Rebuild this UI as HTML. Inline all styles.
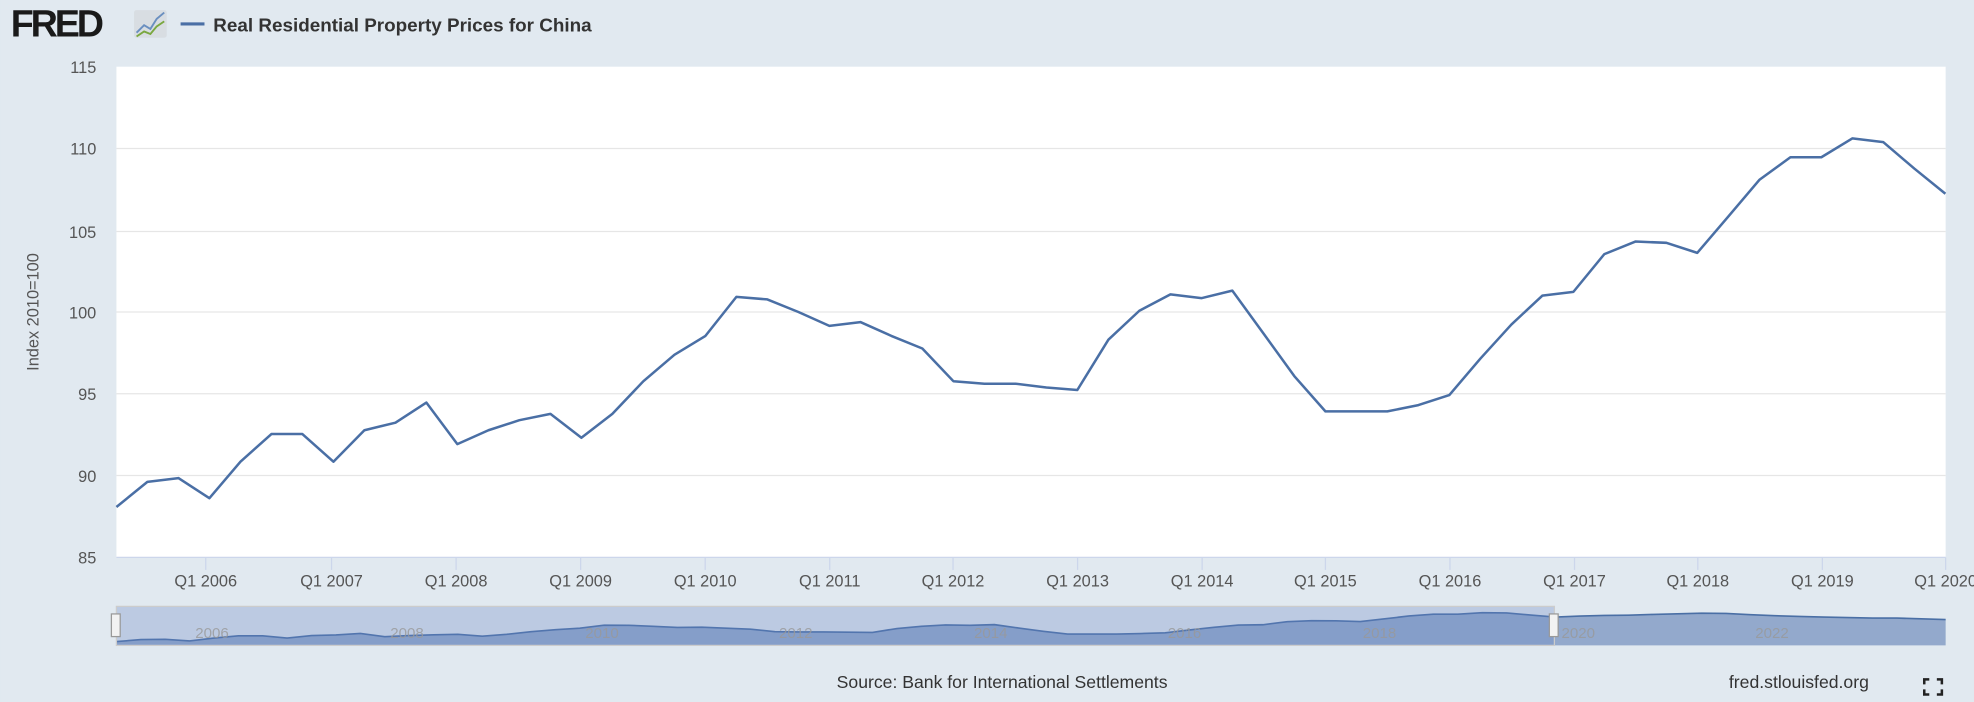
<!DOCTYPE html>
<html><head><meta charset="utf-8"><style>
html,body{margin:0;padding:0;background:#e1e9f0;}
svg{display:block;font-family:"Liberation Sans",sans-serif;}
</style></head><body>
<svg id="s" width="1974" height="702" viewBox="0 0 1568 558" xmlns="http://www.w3.org/2000/svg">
<rect width="1568" height="558" fill="#e1e9f0"/>
<text x="8" y="29" font-size="30" font-weight="bold" fill="#1a1a1a" letter-spacing="-2.5">FRED</text>
<rect x="106" y="8" width="26" height="22" fill="#d8dde2" rx="2"/>
<polyline points="108,26 114,20 119,23 124,15 130,10" fill="none" stroke="#6a8fc0" stroke-width="1.5"/>
<polyline points="108,29 114,25 119,27 124,21 130,17" fill="none" stroke="#7aa840" stroke-width="1.5"/>
<line x1="143" y1="19" x2="162" y2="19" stroke="#4a6fa5" stroke-width="2.5"/>
<text x="169" y="25" font-size="15" font-weight="bold" fill="#333">Real Residential Property Prices for China</text>
<rect x="92" y="53" width="1454" height="390" fill="#fff"/>
<g stroke="#e6e6e6" stroke-width="1">
<line x1="92" y1="118" x2="1546" y2="118"/><line x1="92" y1="184" x2="1546" y2="184"/>
<line x1="92" y1="248" x2="1546" y2="248"/><line x1="92" y1="313" x2="1546" y2="313"/>
<line x1="92" y1="378" x2="1546" y2="378"/>
</g>
<line x1="92" y1="443" x2="1546" y2="443" stroke="#ccd6eb"/>
<g font-size="13" fill="#555" text-anchor="end">
<text x="76" y="58">115</text><text x="76" y="123">110</text><text x="76" y="189">105</text>
<text x="76" y="253">100</text><text x="76" y="318">95</text><text x="76" y="383">90</text><text x="76" y="448">85</text>
</g>
<text transform="translate(30,248) rotate(-90)" font-size="13" fill="#555" text-anchor="middle">Index 2010=100</text>
<g id="xt" font-size="13" fill="#555" text-anchor="middle"></g>
<polyline id="main" fill="none" stroke="#4a6fa5" stroke-width="2" stroke-linejoin="round"/>
<path id="navarea" fill="#93a9cc"/>
<polyline id="navline" fill="none" stroke="#4a6fa5" stroke-width="1.3"/>
<rect x="92" y="482" width="1143" height="31" fill="#6685c2" fill-opacity="0.3" stroke="#ccc"/>
<g font-size="12" fill="#999" text-anchor="middle" opacity="0.8">
<text x="168" y="507">2006</text><text x="323" y="507">2008</text><text x="478" y="507">2010</text>
<text x="632" y="507">2012</text><text x="787" y="507">2014</text><text x="941" y="507">2016</text>
<text x="1096" y="507">2018</text><text x="1254" y="507">2020</text><text x="1408" y="507">2022</text>
</g>
<rect x="88" y="488" width="7" height="18" fill="#f2f2f2" stroke="#999"/>
<rect x="1231" y="488" width="7" height="18" fill="#f2f2f2" stroke="#999"/>
<text x="796" y="547" font-size="14" fill="#333" text-anchor="middle">Source: Bank for International Settlements</text>
<text x="1485" y="547" font-size="14" fill="#333" text-anchor="end">fred.stlouisfed.org</text>
<g stroke="#222" stroke-width="2" fill="none">
<path d="M1529,544v-4h4M1539,540h4v4M1529,548v4h4M1543,548v4h-4"/>
</g>
</svg>
<script>
var ys=[403,383,380,396,367,345,345,367,342,336,320,353,342,334,329,348,329,303,282,267,236,238,248,259,256,267,277,303,305,305,308,310,270,247,234,237,231,265,299,327,327,327,322,314,285,258,235,232,202,192,193,201,172,143,125,125,110,113,134,154];
var pts=[];for(var i=0;i<ys.length;i++){pts.push((92+i*24.64).toFixed(1)+","+ys[i]);}
document.getElementById('main').setAttribute('points',pts.join(' '));
var lab=['Q1 2006','Q1 2007','Q1 2008','Q1 2009','Q1 2010','Q1 2011','Q1 2012','Q1 2013','Q1 2014','Q1 2015','Q1 2016','Q1 2017','Q1 2018','Q1 2019','Q1 2020'];
var xs=[163,263,362,461,560,659,757,856,955,1053,1152,1251,1349,1448,1546];
var g=document.getElementById('xt');
for(var k=0;k<lab.length;k++){var t=document.createElementNS('http://www.w3.org/2000/svg','text');t.setAttribute('x',xs[k]);t.setAttribute('y',466);t.textContent=lab[k];g.appendChild(t);
var l=document.createElementNS('http://www.w3.org/2000/svg','line');l.setAttribute('x1',xs[k]);l.setAttribute('x2',xs[k]);l.setAttribute('y1',443);l.setAttribute('y2',453);l.setAttribute('stroke','#ccd6eb');g.appendChild(l);}
var ext=[145,138,135,128,122,115,118,130,140,148,155,160,165,165,172,180];
var all=ys.concat(ext);var n=all.length;var step=(1546-92)/(n-1);
var np=[];for(var j=0;j<n;j++){np.push((92+j*step).toFixed(1)+","+(510-(403-all[j])*0.0785).toFixed(1));}
document.getElementById('navline').setAttribute('points',np.join(' '));
document.getElementById('navarea').setAttribute('d','M92,513L'+np.join('L')+'L1546,513Z');
</script>
</body></html>
